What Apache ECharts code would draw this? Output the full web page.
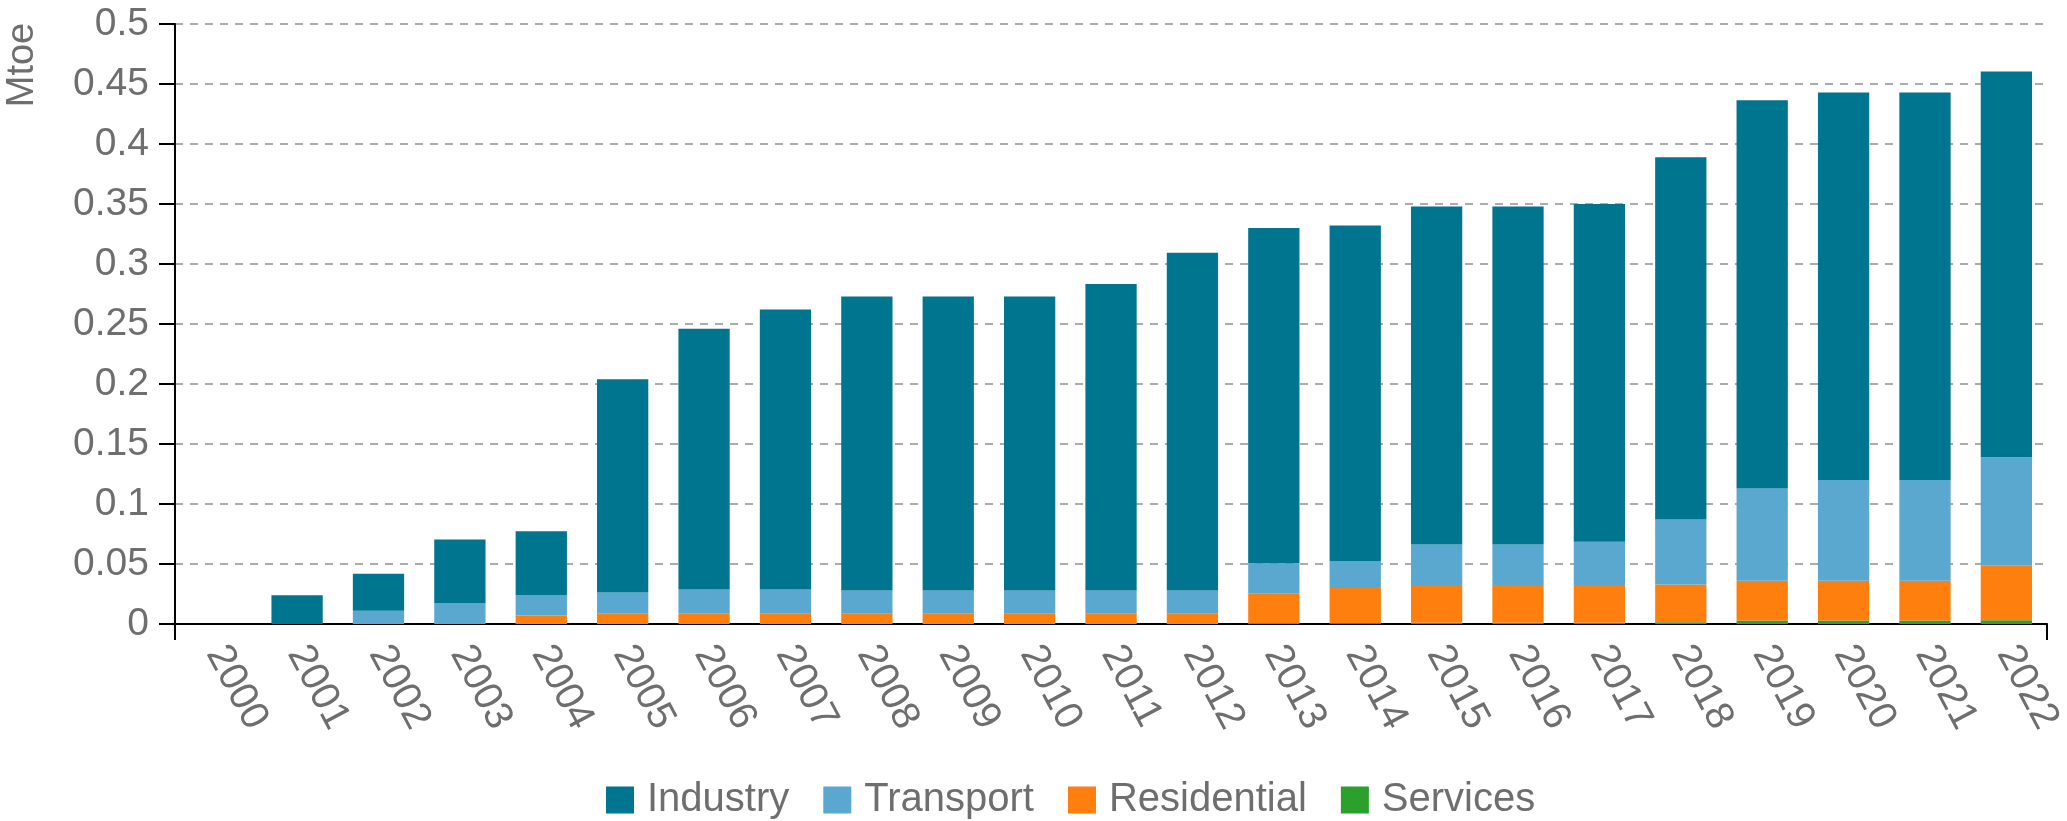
<!DOCTYPE html>
<html>
<head>
<meta charset="utf-8">
<title>Mtoe by sector</title>
<script src="https://cdn.jsdelivr.net/npm/echarts@6/dist/echarts.min.js"></script>
<style>
html,body{margin:0;padding:0;background:#fff;}
#main{width:2067px;height:821px;}
</style>
</head>
<body>
<div id="main"></div>
<script>
// data (Mtoe)
var years = ['2000','2001','2002','2003','2004','2005','2006','2007','2008','2009','2010','2011',
             '2012','2013','2014','2015','2016','2017','2018','2019','2020','2021','2022'];
var industry    = [0, 0.024, 0.0307, 0.0529, 0.0532, 0.1776, 0.2173, 0.2333, 0.245, 0.245, 0.245, 0.2554,
                   0.2813, 0.2794, 0.2794, 0.2818, 0.2818, 0.2815, 0.302, 0.3235, 0.323, 0.323, 0.3215];
var transport   = [0, 0, 0.0111, 0.0176, 0.017, 0.0173, 0.0197, 0.0197, 0.0195, 0.0195, 0.0195, 0.0195,
                   0.0195, 0.025, 0.0226, 0.0338, 0.0338, 0.0361, 0.054, 0.077, 0.084, 0.084, 0.090];
var residential = [0, 0, 0, 0, 0.0071, 0.009, 0.009, 0.009, 0.0085, 0.0085, 0.0085, 0.0085,
                   0.0085, 0.0253, 0.0295, 0.0314, 0.0314, 0.0314, 0.0315, 0.033, 0.033, 0.033, 0.0458];
var services    = [0, 0, 0, 0, 0, 0, 0, 0, 0, 0, 0, 0,
                   0, 0.0003, 0.0005, 0.001, 0.001, 0.001, 0.0015, 0.003, 0.003, 0.003, 0.0032];

var font = 'Liberation Sans, Arial, sans-serif';
var grey = '#6e6e6e';

var myChart = echarts.init(document.getElementById('main'));

function bar(name, data, color){
    return {
        name: name,
        type: 'bar',
        stack: 'total',
        barWidth: '63%',
        xAxisIndex: 0,
        data: data,
        itemStyle: {color: color}
    };
}

option = {
    animation: false,
    textStyle: {fontFamily: font},
    grid: {
        left: 175,
        right: 10,
        top: 24,
        bottom: 197
    },
    legend: {
        data: ['Industry', 'Transport', 'Residential', 'Services'],
        left: 606,
        top: 780,
        padding: 0,
        itemWidth: 28,
        itemHeight: 27,
        itemGap: 34,
        icon: 'rect',
        textStyle: {fontSize: 40, color: grey, fontFamily: font, padding: [0, 0, 0, 8]}
    },
    graphic: [{
        type: 'text',
        x: 23,
        y: 65,
        rotation: Math.PI / 2,
        style: {
            text: 'Mtoe',
            fill: grey,
            font: '38px ' + font,
            textAlign: 'center',
            textVerticalAlign: 'middle'
        }
    }],
    xAxis: [{
        type: 'category',
        data: years,
        axisLine: {lineStyle: {color: '#000', width: 2}},
        axisTick: {alignWithLabel: true, length: 16, lineStyle: {color: '#000', width: 2}},
        axisLabel: {rotate: -62, fontSize: 40, color: grey, margin: 24, interval: 0}
    }, {
        // end ticks of the axis
        type: 'value',
        min: 0,
        max: 23,
        interval: 23,
        position: 'bottom',
        axisLine: {show: false},
        axisTick: {show: true, length: 16, lineStyle: {color: '#000', width: 2}},
        axisLabel: {show: false},
        splitLine: {show: false}
    }],
    yAxis: {
        type: 'value',
        min: 0,
        max: 0.5,
        interval: 0.05,
        axisLine: {show: true, lineStyle: {color: '#000', width: 2}},
        axisTick: {show: true, length: 16, lineStyle: {color: '#000', width: 2}},
        axisLabel: {fontSize: 39, color: grey, margin: 26},
        splitLine: {lineStyle: {color: '#acacac', width: 2, type: [8, 7]}}
    },
    series: [
        bar('Services', services, '#2ca02c'),
        bar('Residential', residential, '#ff7f0e'),
        bar('Transport', transport, '#5aa8d0'),
        bar('Industry', industry, '#00758f')
    ]
};
myChart.setOption(option);
</script>
</body>
</html>
